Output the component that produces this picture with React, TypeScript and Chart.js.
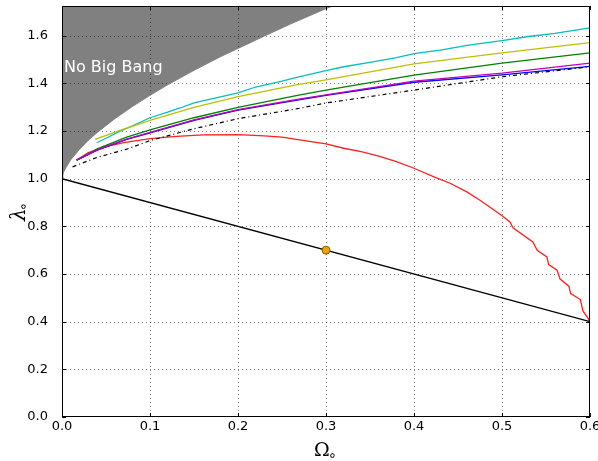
import { useEffect, useRef } from "react";
import { Chart, registerables } from "chart.js";

Chart.register(...registerables);

// "No Big Bang" boundary
const boundaryOmega = [0, 0.001, 0.002, 0.005, 0.01, 0.02, 0.03, 0.04, 0.06, 0.08, 0.1, 0.12, 0.15, 0.18, 0.2, 0.23, 0.26, 0.28, 0.3, 0.31];
const boundaryLambda = [1.0, 1.017, 1.029, 1.05, 1.08, 1.124, 1.162, 1.194, 1.252, 1.303, 1.35, 1.394, 1.455, 1.512, 1.547, 1.599, 1.65, 1.682, 1.714, 1.729];

// flat-universe line
const flatOmega = [0, 0.6];
const flatLambda = [1.0, 0.4];

// marked model
const pointOmega = [0.3];
const pointLambda = [0.7];

const cyanOmega = [0.0394, 0.05, 0.066, 0.08, 0.1, 0.12, 0.135, 0.15, 0.17, 0.2, 0.22, 0.25, 0.269, 0.3, 0.32, 0.35, 0.38, 0.4, 0.43, 0.46, 0.5, 0.53, 0.56, 0.6];
const cyanLambda = [1.151, 1.17, 1.2, 1.222, 1.256, 1.28, 1.298, 1.318, 1.335, 1.36, 1.385, 1.41, 1.428, 1.454, 1.47, 1.488, 1.508, 1.525, 1.54, 1.56, 1.58, 1.597, 1.61, 1.633];

const yellowOmega = [0.0375, 0.066, 0.1, 0.15, 0.2, 0.269, 0.3, 0.4, 0.5, 0.6];
const yellowLambda = [1.165, 1.203, 1.245, 1.3, 1.345, 1.396, 1.415, 1.482, 1.528, 1.571];

const greenOmega = [0.0167, 0.04, 0.0735, 0.1, 0.15, 0.2, 0.269, 0.3, 0.4, 0.5, 0.6];
const greenLambda = [1.078, 1.125, 1.175, 1.205, 1.256, 1.3, 1.351, 1.372, 1.435, 1.485, 1.528];

const blueOmega = [0.0167, 0.04, 0.0735, 0.1, 0.15, 0.2, 0.269, 0.3, 0.4, 0.5, 0.6];
const blueLambda = [1.078, 1.12, 1.165, 1.193, 1.245, 1.288, 1.331, 1.35, 1.405, 1.436, 1.472];

const magentaOmega = [0.0167, 0.04, 0.0735, 0.1, 0.15, 0.2, 0.269, 0.3, 0.4, 0.5, 0.6];
const magentaLambda = [1.078, 1.121, 1.166, 1.195, 1.247, 1.29, 1.334, 1.352, 1.41, 1.443, 1.485];

const dashOmega = [0.012, 0.04, 0.0735, 0.1, 0.15, 0.2, 0.269, 0.3, 0.4, 0.5, 0.6];
const dashLambda = [1.05, 1.09, 1.124, 1.16, 1.21, 1.252, 1.295, 1.318, 1.372, 1.428, 1.47];

const redOmega = [0.0167, 0.03, 0.05, 0.07, 0.1, 0.13, 0.16, 0.2, 0.23, 0.25, 0.27, 0.3, 0.32, 0.34, 0.36, 0.38, 0.4, 0.424, 0.441, 0.46, 0.475, 0.49, 0.5, 0.509, 0.5125, 0.535, 0.54, 0.551, 0.553, 0.5625, 0.566, 0.576, 0.578, 0.589, 0.592, 0.598, 0.6];
const redLambda = [1.078, 1.11, 1.135, 1.152, 1.168, 1.178, 1.184, 1.185, 1.18, 1.175, 1.163, 1.146, 1.128, 1.114, 1.095, 1.072, 1.044, 1.006, 0.981, 0.945, 0.91, 0.871, 0.845, 0.819, 0.794, 0.735, 0.7, 0.672, 0.64, 0.616, 0.579, 0.549, 0.518, 0.493, 0.445, 0.413, 0.4];

const xTicks = [0, 0.1, 0.2, 0.3, 0.4, 0.5, 0.6];
const yTicks = [0, 0.2, 0.4, 0.6, 0.8, 1.0, 1.2, 1.4, 1.6];

const pts = (xs: number[], ys: number[]) => xs.map((x, i) => ({ x, y: ys[i] }));

export default function App() {
  const ref = useRef<HTMLCanvasElement>(null);

  useEffect(() => {
    const canvas = ref.current!;
    const line = (xs: number[], ys: number[], color: string, order: number, extra: any = {}) => ({
      data: pts(xs, ys),
      showLine: true,
      borderColor: color,
      backgroundColor: color,
      borderWidth: 1.3,
      pointRadius: 0,
      fill: false,
      tension: 0,
      order,
      ...extra,
    });

    const deco = {
      id: "deco",
      beforeDatasetsDraw(chart: any) {
        const { ctx, chartArea: a, scales } = chart;
        ctx.save();
        ctx.strokeStyle = "rgba(0,0,0,0.5)";
        ctx.lineWidth = 1;
        ctx.setLineDash([1, 3]);
        xTicks.slice(1, -1).forEach((v) => {
          const px = Math.round(scales.x.getPixelForValue(v)) + 0.5;
          ctx.beginPath();
          ctx.moveTo(px, a.top);
          ctx.lineTo(px, a.bottom);
          ctx.stroke();
        });
        yTicks.slice(1).forEach((v) => {
          const py = Math.round(scales.y.getPixelForValue(v)) + 0.5;
          ctx.beginPath();
          ctx.moveTo(a.left, py);
          ctx.lineTo(a.right, py);
          ctx.stroke();
        });
        ctx.restore();
      },
      afterDraw(chart: any) {
        const { ctx, chartArea: a, scales } = chart;
        ctx.save();
        // text in shaded area
        ctx.fillStyle = "#ffffff";
        ctx.font = "16px 'DejaVu Sans'";
        ctx.textAlign = "left";
        ctx.textBaseline = "alphabetic";
        ctx.fillText("No Big Bang", 64, 72);
        // frame
        ctx.strokeStyle = "#000";
        ctx.lineWidth = 1;
        ctx.setLineDash([]);
        ctx.strokeRect(Math.round(a.left) + 0.5, Math.round(a.top) + 0.5, Math.round(a.right - a.left) - 1, Math.round(a.bottom - a.top) - 1);
        // inward ticks
        const tl = 4;
        xTicks.forEach((v) => {
          const px = Math.round(scales.x.getPixelForValue(v)) + 0.5;
          ctx.beginPath();
          ctx.moveTo(px, a.bottom);
          ctx.lineTo(px, a.bottom - tl);
          ctx.moveTo(px, a.top);
          ctx.lineTo(px, a.top + tl);
          ctx.stroke();
        });
        yTicks.forEach((v) => {
          const py = Math.round(scales.y.getPixelForValue(v)) + 0.5;
          ctx.beginPath();
          ctx.moveTo(a.left, py);
          ctx.lineTo(a.left + tl, py);
          ctx.moveTo(a.right, py);
          ctx.lineTo(a.right - tl, py);
          ctx.stroke();
        });
        // axis titles
        ctx.fillStyle = "#000";
        ctx.textBaseline = "alphabetic";
        ctx.font = "19px 'DejaVu Serif'";
        ctx.fillText("Ω", 314, 456);
        ctx.font = "14px 'DejaVu Sans'";
        ctx.fillText("∘", 328, 460);
        ctx.translate(25, 221);
        ctx.rotate(-Math.PI / 2);
        ctx.font = "italic 20px 'DejaVu Serif'";
        ctx.fillText("λ", 0, 0);
        ctx.font = "14px 'DejaVu Sans'";
        ctx.fillText("∘", 10, 3);
        ctx.restore();
      },
    };

    const tickFont = { family: "'DejaVu Sans'", size: 13 };

    const chart = new Chart(canvas, {
      type: "scatter",
      data: {
        datasets: [
          line(pointOmega, pointLambda, "#000", 0, {
            showLine: false,
            pointRadius: 4,
            pointBackgroundColor: "#f5a000",
            pointBorderColor: "#6b4a00",
            pointBorderWidth: 0.8,
          }),
          line(flatOmega, flatLambda, "#000000", 1),
          line(dashOmega, dashLambda, "#000000", 2, { borderDash: [4, 3, 1, 3], borderWidth: 1.2 }),
          line(magentaOmega, magentaLambda, "#bf00bf", 3),
          line(blueOmega, blueLambda, "#0000ff", 4),
          line(greenOmega, greenLambda, "#008000", 5),
          line(yellowOmega, yellowLambda, "#bfbf00", 6),
          line(cyanOmega, cyanLambda, "#00bfbf", 7),
          line(redOmega, redLambda, "#ff2020", 8),
          line(boundaryOmega, boundaryLambda, "#808080", 100, {
            fill: "end",
            backgroundColor: "#808080",
            borderWidth: 1,
          }),
        ],
      },
      options: {
        responsive: false,
        animation: false,
        events: [],
        layout: { padding: { top: 6, right: 8, left: 0, bottom: 0 } },
        plugins: {
          legend: { display: false },
          tooltip: { enabled: false },
          filler: { drawTime: "beforeDatasetsDraw" },
        } as any,
        scales: {
          x: {
            type: "linear",
            min: 0,
            max: 0.6,
            grid: { display: false },
            border: { display: false },
            ticks: {
              stepSize: 0.1,
              autoSkip: false,
              maxRotation: 0,
              padding: -6,
              color: "#000",
              font: tickFont,
              callback: (v: any) => Number(v).toFixed(1),
            },
            afterFit: (s: any) => {
              s.height = 44;
              s.paddingLeft = 0;
              s.paddingRight = 0;
            },
          },
          y: {
            type: "linear",
            min: 0,
            max: 1.725,
            grid: { display: false },
            border: { display: false },
            ticks: {
              stepSize: 0.2,
              includeBounds: false,
              autoSkip: false,
              padding: 6,
              color: "#000",
              font: tickFont,
              callback: (v: any) => Number(v).toFixed(1),
            },
            afterFit: (s: any) => {
              s.width = 62;
              s.paddingTop = 0;
              s.paddingBottom = 0;
            },
          },
        },
      } as any,
      plugins: [deco],
    });
    return () => chart.destroy();
  }, []);

  return (
    <div style={{ position: "absolute", left: 0, top: 0, width: 598, height: 461, background: "#fff" }}>
      <canvas ref={ref} width={598} height={461} style={{ display: "block" }} />
    </div>
  );
}
